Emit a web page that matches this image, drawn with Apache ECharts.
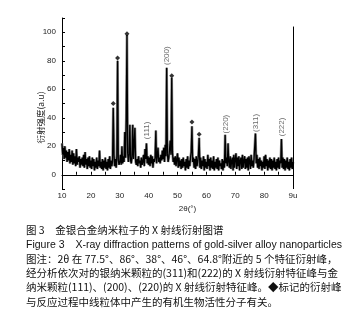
<!DOCTYPE html>
<html>
<head>
<meta charset="utf-8">
<script src="https://cdn.jsdelivr.net/npm/echarts@6/dist/echarts.min.js"></script>
<style>
html, body { margin: 0; padding: 0; background: #fff; }
#main { width: 355px; height: 334px; }
</style>
</head>
<body>
<div id="main"></div>
<script>
// 扫描范围 2θ 10°~90°，步长 0.25°
var scanStart = 10;
var scanStep = 0.25;
// 衍射强度 (a.u)，每行一度（4 个点）
var intensity = [
  22, 14, 19, 11,  20, 12, 17, 9,   16, 10, 18, 8,   14, 9, 17, 7,
  15, 8, 13, 6,    18, 7, 12, 9,    13, 5, 11, 7,    12, 6, 14, 5,
  16, 7, 11, 4,    12, 6, 13, 5,    10, 4, 12, 6,    11, 3, 9, 5,
  12, 4, 10, 6,    17, 5, 9, 4,     11, 3, 10, 5,    12, 4, 9, 3,
  11, 5, 13, 4,    10, 6, 9, 47,    14, 6, 11, 5,    13, 80, 10, 7,
  9, 14, 7, 20,    8, 13, 9, 30,    12, 40, 98, 15,  9, 14, 35, 10,
  8, 13, 35, 11,   12, 33, 9, 7,    11, 6, 13, 8,    10, 5, 12, 7,
  9, 14, 6, 18,    11, 22, 8, 13,   7, 12, 6, 14,    8, 13, 5, 11,
  9, 12, 31, 8,    7, 19, 9, 12,    8, 14, 10, 17,   11, 19, 9, 21,
  13, 75, 15, 9,   12, 18, 24, 14,  68, 16, 9, 12,   7, 13, 6, 11,
  15, 5, 12, 6,    10, 4, 11, 5,    12, 6, 9, 3,     11, 5, 13, 4,
  10, 6, 12, 16,   34, 9, 12, 5,    11, 4, 13, 6,    9, 14, 26, 5,
  12, 4, 10, 6,    13, 3, 11, 5,    9, 4, 14, 6,     11, 3, 12, 5,
  10, 4, 13, 3,    9, 5, 11, 4,     12, 3, 10, 6,    8, 4, 11, 3,
  10, 5, 28, 8,    12, 6, 22, 9,    5, 13, 4, 10,    12, 3, 14, 5,
  11, 15, 4, 12,   6, 13, 3, 10,    12, 4, 14, 5,    10, 13, 4, 11,
  5, 12, 3, 13,    9, 4, 14, 6,     10, 5, 11, 12,   29, 8, 14, 5,
  11, 4, 12, 6,    10, 3, 9, 5,     13, 4, 14, 6,    11, 3, 10, 5,
  12, 4, 11, 3,    10, 5, 12, 4,    9, 3, 11, 5,     12, 4, 10, 8,
  25, 5, 12, 4,    11, 3, 10, 5,    12, 4, 9, 3,     11, 5, 12, 4,
  9
];
// ◆ 标记峰
var markedPeaks = [[27.75, 50], [29.25, 82], [32.5, 99], [48, 69.5], [55, 37], [57.5, 28.5]];
// 晶面标注
var planeLabels = [
  { name: '(111)', value: [39.5, 25] },
  { name: '(200)', value: [46.3, 77] },
  { name: '(220)', value: [66.6, 29] },
  { name: '(311)', value: [77.0, 30] },
  { name: '(222)', value: [86.2, 27] }
];
var xTickLabels = { 10: '10', 20: '20', 30: '30', 40: '40', 50: '50', 60: '60', 70: '70', 80: '80', 90: '9u' };
var yTickLabels = { 0: '0', 20: '20', 40: '40', 60: '60', 80: '80', 100: '100' };

var captionLines = [
  '图 3　金银合金纳米粒子的 X 射线衍射图谱',
  'Figure 3　X-ray diffraction patterns of gold-silver alloy nanoparticles',
  '图注：2θ 在 77.5°、86°、38°、46°、64.8°附近的 5 个特征衍射峰，',
  '经分析依次对的银纳米颗粒的(311)和(222)的 X 射线衍射特征峰与金',
  '纳米颗粒(111)、(200)、(220)的 X 射线衍射特征峰。◆标记的衍射峰',
  '与反应过程中线粒体中产生的有机生物活性分子有关。'
];

var pattern = intensity.map(function (v, i) { return [scanStart + i * scanStep, v]; });

var chart = echarts.init(document.getElementById('main'));

var captionGraphics = captionLines.map(function (t, i) {
  return {
    type: 'text',
    left: 26,
    top: 225 + i * 14.3,
    style: {
      text: t,
      font: (i === 1 ? '10.5px "Liberation Sans", Arial' : '10.5px "Noto Sans CJK SC"'),
      fill: '#111'
    }
  };
});

var option = {
  animation: false,
  backgroundColor: '#fff',
  grid: { left: 62, right: 62, top: 18, bottom: 145 },
  xAxis: {
    type: 'value',
    min: 10, max: 90, interval: 5,
    name: '2θ(°)',
    nameLocation: 'middle',
    nameGap: 14,
    nameTextStyle: { fontSize: 8, color: '#222', fontFamily: 'Liberation Sans', padding: [0, 0, 0, 20] },
    axisLine: { lineStyle: { color: '#000', width: 1 } },
    axisTick: { inside: true, length: 3, lineStyle: { color: '#000' } },
    axisLabel: {
      fontSize: 8, color: '#222', fontFamily: 'Liberation Sans', margin: 3,
      formatter: function (v) { return xTickLabels[v] || ''; }
    },
    splitLine: { show: false }
  },
  yAxis: {
    type: 'value',
    min: -10, max: 110, interval: 10,
    name: '衍射强度(a.u)',
    nameLocation: 'middle',
    nameGap: 17,
    nameMoveOverlap: false,
    nameTextStyle: { fontSize: 8.5, color: '#222', fontFamily: 'Noto Sans CJK SC', padding: [0, 28, 0, 0] },
    axisLine: { show: true, lineStyle: { color: '#000', width: 1 } },
    axisTick: { show: true, inside: true, length: 3, lineStyle: { color: '#000' } },
    axisLabel: {
      fontSize: 8, color: '#222', fontFamily: 'Liberation Sans', margin: 6,
      formatter: function (v) { return yTickLabels[v] || ''; }
    },
    splitLine: { show: false }
  },
  series: [
    {
      type: 'line',
      data: pattern,
      showSymbol: false,
      lineStyle: { color: '#8a8a8a', width: 2.6 },
      silent: true,
      z: 2
    },
    {
      type: 'line',
      data: pattern,
      showSymbol: false,
      lineStyle: { color: '#000', width: 1.3 },
      silent: true,
      z: 3,
      markLine: {
        silent: true,
        symbol: 'none',
        label: { show: false },
        lineStyle: { color: '#000', width: 1, type: 'solid' },
        data: [[{ coord: [90, -10] }, { coord: [90, 104] }]]
      }
    },
    {
      type: 'scatter',
      data: markedPeaks,
      symbol: 'diamond',
      symbolSize: 5,
      itemStyle: { color: '#000' },
      z: 4
    },
    {
      type: 'scatter',
      data: planeLabels,
      symbolSize: 0,
      z: 4,
      label: {
        show: true,
        formatter: '{b}',
        position: [0, 0],
        rotate: 90,
        align: 'left',
        verticalAlign: 'middle',
        fontSize: 8,
        color: '#444',
        fontFamily: 'Liberation Sans'
      }
    }
  ],
  graphic: captionGraphics
};

chart.setOption(option);
</script>
</body>
</html>
